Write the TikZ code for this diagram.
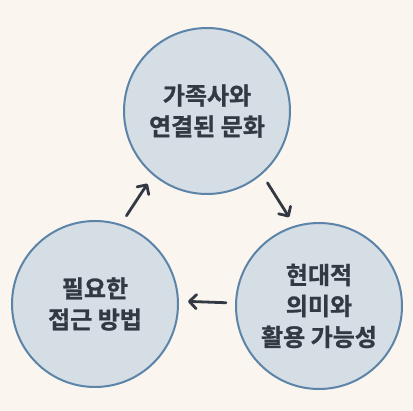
\documentclass[tikz,border=0pt]{standalone}
\usepackage{fontspec}
\newfontfamily\kr{Noto Sans CJK KR Bold}[FakeBold=1]
\usetikzlibrary{arrows.meta}

\definecolor{paper}{RGB}{250,245,238}
\definecolor{ringfill}{RGB}{213,221,229}
\definecolor{ringline}{RGB}{92,132,168}
\definecolor{ink}{RGB}{50,57,66}

\tikzset{
	ring/.style={circle, draw=ringline, fill=ringfill, line width=2pt,
		minimum size=166pt, inner sep=0pt, align=center, text=ink,
		font=\kr\fontsize{24pt}{31pt}\selectfont},
	flow/.style={draw=ink, line width=2.8pt, line cap=round,
		-{Straight Barb[length=7pt,width=14pt,line cap=round,line join=round]},
		shorten <=10pt, shorten >=10pt}
}

\begin{document}
\begin{tikzpicture}[x=1pt,y=-1pt]
	\fill[paper] (0,0) rectangle (413,411);
	\useasboundingbox (0,0) rectangle (413,411);
	\node[ring] (culture) at (207,111) {\raisebox{7pt}{\parbox{150pt}{\centering 가족사와\\연결된 문화}}};
	\node[ring] (meaning) at (319,306) {현대적\\의미와\\활용 가능성};
	\node[ring] (method) at (95,304) {필요한\\접근 방법};
	\draw[flow] (method.72) -- (culture.230);
	\draw[flow] (culture.-49) -- (meaning.107);
	\draw[flow, shorten <=9pt, shorten >=9pt] (meaning.178) -- (method.2);
\end{tikzpicture}
\end{document}
